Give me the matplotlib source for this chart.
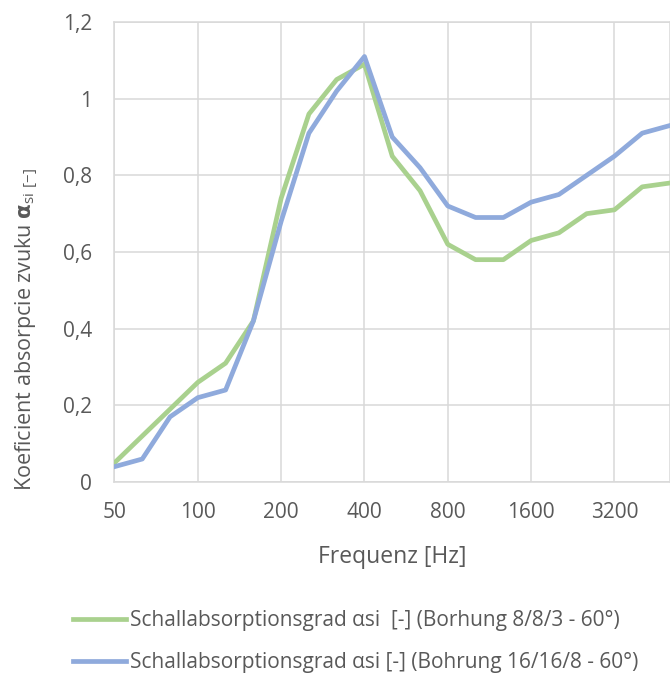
#!/usr/bin/env python3

import numpy as np
import matplotlib.pyplot as plt

plt.rcParams['font.family'] = ['Open Sans', 'DejaVu Sans']
plt.rcParams['mathtext.fontset'] = 'custom'
plt.rcParams['mathtext.rm'] = 'Open Sans'
plt.rcParams['mathtext.bf'] = 'DejaVu Sans:bold'

# third-octave bands (Excel category axis)
freqs = ['50', '63', '80', '100', '125', '160', '200', '250', '315', '400', '500',
         '630', '800', '1000', '1250', '1600', '2000', '2500', '3200', '4000', '5000']
alpha_8_8_3 = [0.05, 0.12, 0.19, 0.26, 0.31, 0.42, 0.74, 0.96, 1.05, 1.09, 0.85,
               0.76, 0.62, 0.58, 0.58, 0.63, 0.65, 0.70, 0.71, 0.77, 0.78]
alpha_16_16_8 = [0.04, 0.06, 0.17, 0.22, 0.24, 0.42, 0.68, 0.91, 1.02, 1.11, 0.90,
                 0.82, 0.72, 0.69, 0.69, 0.73, 0.75, 0.80, 0.85, 0.91, 0.93]
series_names = ['Schallabsorptionsgrad \u03b1si  [-] (Borhung 8/8/3 - 60\u00b0)',
                'Schallabsorptionsgrad \u03b1si [-] (Bohrung 16/16/8 - 60\u00b0)']
y_ticks = [0, 0.2, 0.4, 0.6, 0.8, 1.0, 1.2]

TXT = '#595959'
GRID = '#d9d9d9'
FS = 15


def main():
    fig = plt.figure(figsize=(6.7, 6.78), dpi=100)
    ax = fig.add_axes([114.5 / 670, 1 - 482 / 678, (670 - 114.5) / 670, 460 / 678])

    x = np.arange(len(freqs))
    ax.plot(x, alpha_8_8_3, color='#a9d18e', lw=3.4, label=series_names[0],
            solid_joinstyle='round', zorder=3)
    ax.plot(x, alpha_16_16_8, color='#8faadc', lw=3.4, label=series_names[1],
            solid_joinstyle='round', zorder=4)

    ax.set_xlim(0, len(freqs) - 1)
    ax.set_ylim(0, 1.2)
    ax.set_xticks(x[::3])
    ax.set_xticklabels(freqs[::3])
    ax.set_yticks(y_ticks)
    ax.set_yticklabels([('%g' % v).replace('.', ',') for v in y_ticks])
    ax.grid(True, color=GRID, lw=1.1)
    ax.set_axisbelow(True)
    for s in ax.spines.values():
        s.set_color(GRID)
        s.set_linewidth(1.1)
    ax.tick_params(length=0, labelsize=FS, labelcolor=TXT, pad=16)
    ax.tick_params(axis='x', pad=14.5)

    ax.set_xlabel('Frequenz [Hz]', fontsize=16.5, color=TXT, labelpad=16)
    ax.set_ylabel(r'Koeficient absorpcie zvuku $\mathbf{\alpha}_{\mathrm{si\ [-]}}$',
                  fontsize=FS + 0.5, color=TXT)
    ax.yaxis.set_label_coords(-0.134, 0.332)

    leg = fig.legend(loc='upper left', bbox_to_anchor=(73 / 670, 1 - 610 / 678), ncol=1,
                     frameon=False, fontsize=FS, handlelength=2.55, handletextpad=0.2,
                     labelspacing=1.0, borderpad=0, borderaxespad=0)
    for t in leg.get_texts():
        t.set_color(TXT)

    fig.savefig('out.png', dpi=100)


if __name__ == '__main__':
    main()
